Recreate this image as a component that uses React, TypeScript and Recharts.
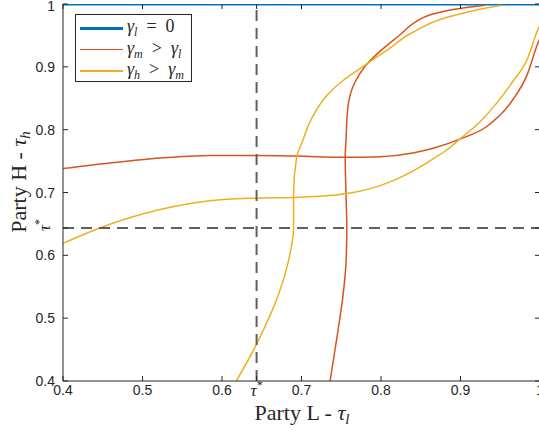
import { LineChart, Line, XAxis, YAxis, ReferenceLine, Label } from "recharts";

const tauStar = 0.6435;
const xTicks = [0.4, 0.5, 0.6, tauStar, 0.7, 0.8, 0.9, 1];
const yTicks = [0.4, 0.5, 0.6, tauStar, 0.7, 0.8, 0.9, 1];

// gamma_l = 0 : tau_h sits at 1
const blueTauL = [0.4, 1];
const blueTauH = [1, 1];

// gamma_m > gamma_l : response of H (tau_h against tau_l)
const redHTauL = [0.4, 0.459, 0.522, 0.585, 0.643, 0.694, 0.755, 0.799, 0.84, 0.87, 0.899, 0.933, 0.966, 0.984, 0.996, 1.0];
const redHTauH = [0.738, 0.747, 0.755, 0.759, 0.759, 0.758, 0.756, 0.757, 0.763, 0.772, 0.785, 0.805, 0.848, 0.888, 0.933, 0.946];
// gamma_m > gamma_l : response of L (tau_l against tau_h)
const redLTauH = [0.4, 0.481, 0.534, 0.588, 0.644, 0.696, 0.757, 0.784, 0.832, 0.875, 0.901, 0.925, 0.951, 0.971, 0.983, 0.989, 0.994, 0.998];
const redLTauL = [0.736, 0.746, 0.752, 0.756, 0.757, 0.756, 0.755, 0.756, 0.758, 0.767, 0.78, 0.799, 0.824, 0.843, 0.862, 0.881, 0.905, 0.931];

// gamma_h > gamma_m
const yelHTauL = [0.4, 0.447, 0.522, 0.585, 0.643, 0.689, 0.755, 0.799, 0.84, 0.87, 0.883, 0.899, 0.925, 0.946, 0.966, 0.984, 0.996, 1.0];
const yelHTauH = [0.619, 0.644, 0.673, 0.687, 0.691, 0.692, 0.698, 0.711, 0.734, 0.757, 0.768, 0.785, 0.813, 0.843, 0.877, 0.912, 0.955, 0.967];
const yelLTauH = [0.4, 0.455, 0.481, 0.534, 0.588, 0.644, 0.696, 0.757, 0.784, 0.808, 0.832, 0.856, 0.879, 0.902, 0.927, 0.955, 0.978, 0.991, 0.998];
const yelLTauL = [0.618, 0.642, 0.652, 0.67, 0.683, 0.69, 0.69, 0.694, 0.702, 0.709, 0.719, 0.733, 0.753, 0.779, 0.808, 0.84, 0.881, 0.922, 0.952];

const zip = (xs: number[], ys: number[]) => xs.map((x, i) => ({ x, y: ys[i] }));

const BLUE = "#0072BD";
const RED = "#D95319";
const YELLOW = "#EDB120";
const INK = "#262626";
const PLOT_TOP = 4;
const PLOT_RIGHT = 540;

const isStar = (v: number) => Math.abs(v - tauStar) < 1e-6;

function XTick(props: any) {
  const { x, y, payload } = props;
  const v = payload.value;
  return (
    <g>
      <line x1={x} y1={y} x2={x} y2={y - 5} stroke={INK} />
      <line x1={x} y1={PLOT_TOP} x2={x} y2={PLOT_TOP + 5} stroke={INK} />
      {isStar(v) ? (
        <text x={x} y={y + 15} textAnchor="middle" fontFamily="Liberation Serif" fontSize={17} fill={INK}>
          <tspan fontStyle="italic">τ</tspan>
          <tspan fontSize={12} dy={-7}>*</tspan>
        </text>
      ) : (
        <text x={x} y={y + 14} textAnchor="middle" fontFamily="Liberation Sans" fontSize={14} fill={INK}>
          {v === 1 ? "1" : v.toFixed(1)}
        </text>
      )}
    </g>
  );
}

function YTick(props: any) {
  const { x, y, payload } = props;
  const v = payload.value;
  return (
    <g>
      <line x1={x} y1={y} x2={x + 5} y2={y} stroke={INK} />
      <line x1={PLOT_RIGHT} y1={y} x2={PLOT_RIGHT - 5} y2={y} stroke={INK} />
      {isStar(v) ? (
        <text
          x={50}
          y={y - 3}
          transform={`rotate(-90, 50, ${y - 3})`}
          textAnchor="middle"
          fontFamily="Liberation Serif"
          fontSize={17}
          fill={INK}
        >
          <tspan fontStyle="italic">τ</tspan>
          <tspan fontSize={12} dy={-7}>*</tspan>
        </text>
      ) : (
        <text x={x - 8} y={v === 1 ? y + 7 : y + 5} textAnchor="end" fontFamily="Liberation Sans" fontSize={14} fill={INK}>
          {v === 1 ? "1" : v.toFixed(1)}
        </text>
      )}
    </g>
  );
}

function XTitle() {
  return (
    <text x={302} y={420} textAnchor="middle" fontFamily="Liberation Serif" fontSize={22} fill={INK}>
      Party L - <tspan fontStyle="italic">τ</tspan>
      <tspan fontStyle="italic" fontSize={15} dy={4}>l</tspan>
    </text>
  );
}

function YTitle() {
  return (
    <text
      x={26}
      y={182}
      transform="rotate(-90, 26, 182)"
      textAnchor="middle"
      fontFamily="Liberation Serif"
      fontSize={22}
      fill={INK}
    >
      Party H - <tspan fontStyle="italic">τ</tspan>
      <tspan fontStyle="italic" fontSize={15} dy={4}>h</tspan>
    </text>
  );
}

const sub = { fontSize: 12, verticalAlign: "-4px" } as const;

function LegendBox() {
  const rows = [
    { color: BLUE, width: 3, label: (<><i>γ</i><i style={sub}>l</i>&nbsp;&nbsp;=&nbsp;&nbsp;0</>) },
    { color: RED, width: 1.5, label: (<><i>γ</i><i style={sub}>m</i>&nbsp;&nbsp;&gt;&nbsp;&nbsp;<i>γ</i><i style={sub}>l</i></>) },
    { color: YELLOW, width: 1.5, label: (<><i>γ</i><i style={sub}>h</i>&nbsp;&nbsp;&gt;&nbsp;&nbsp;<i>γ</i><i style={sub}>m</i></>) },
  ];
  return (
    <div
      style={{
        position: "absolute",
        left: 75,
        top: 14,
        width: 117,
        height: 68,
        border: `1px solid ${INK}`,
        background: "#fff",
        boxSizing: "border-box",
      }}
    >
      {rows.map((r, i) => (
        <div key={i} style={{ position: "absolute", left: 4, top: 13 + i * 21.5 - 11, height: 22, display: "flex", alignItems: "center" }}>
          <div style={{ width: 43, height: r.width, background: r.color }} />
          <span style={{ marginLeft: 4, fontFamily: "Liberation Serif", fontSize: 18, color: INK, whiteSpace: "nowrap" }}>
            {r.label}
          </span>
        </div>
      ))}
    </div>
  );
}

export default function App() {
  return (
    <div style={{ position: "absolute", left: 0, top: 0, width: 539, height: 432, overflow: "hidden", background: "#fff" }}>
      <LineChart width={545} height={432} margin={{ top: PLOT_TOP, right: 5, bottom: 0, left: 0 }}>
        <XAxis
          type="number"
          dataKey="x"
          domain={[0.4, 1]}
          allowDataOverflow
          ticks={xTicks}
          interval={0}
          height={51}
          tickSize={0}
          tickMargin={0}
          tickLine={false}
          axisLine={{ stroke: INK }}
          tick={(p: any) => <XTick {...p} />}
        >
          <Label content={<XTitle />} />
        </XAxis>
        <YAxis
          type="number"
          domain={[0.4, 1]}
          allowDataOverflow
          ticks={yTicks}
          interval={0}
          width={63}
          tickSize={0}
          tickMargin={0}
          tickLine={false}
          axisLine={{ stroke: INK }}
          tick={(p: any) => <YTick {...p} />}
        >
          <Label content={<YTitle />} />
        </YAxis>
        <Line data={zip(blueTauL, blueTauH)} dataKey="y" type="linear" stroke={BLUE} strokeWidth={3} dot={false} isAnimationActive={false} />
        <Line data={zip(redHTauL, redHTauH)} dataKey="y" type="monotoneX" stroke={RED} strokeWidth={1.5} dot={false} isAnimationActive={false} />
        <Line data={zip(redLTauL, redLTauH)} dataKey="y" type="monotoneY" stroke={RED} strokeWidth={1.5} dot={false} isAnimationActive={false} />
        <Line data={zip(yelHTauL, yelHTauH)} dataKey="y" type="monotoneX" stroke={YELLOW} strokeWidth={1.5} dot={false} isAnimationActive={false} />
        <Line data={zip(yelLTauL, yelLTauH)} dataKey="y" type="monotoneY" stroke={YELLOW} strokeWidth={1.5} dot={false} isAnimationActive={false} />
        <ReferenceLine x={tauStar} stroke="#606060" strokeWidth={2} strokeDasharray="11 7" />
        <ReferenceLine y={tauStar} stroke="#606060" strokeWidth={2} strokeDasharray="11 7" />
      </LineChart>
      <LegendBox />
    </div>
  );
}
